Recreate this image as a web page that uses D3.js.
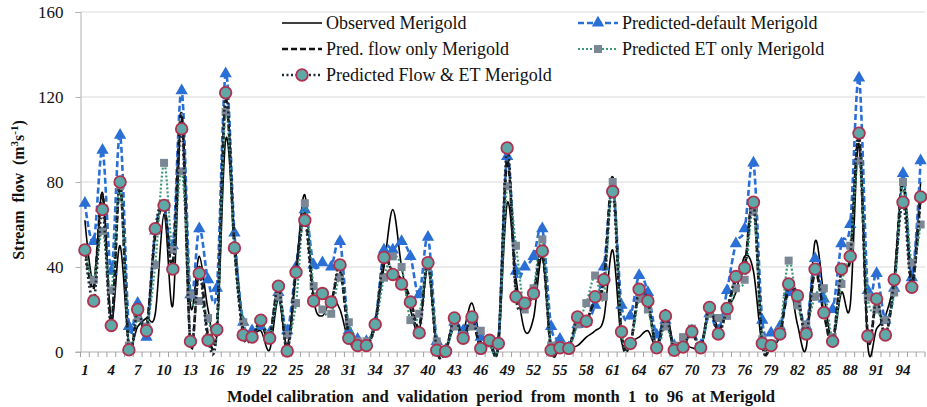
<!DOCTYPE html>
<html><head><meta charset="utf-8">
<script src="https://cdn.jsdelivr.net/npm/d3@7"></script>
<style>
body{margin:0;background:#fff;}
svg text{font-family:"Liberation Serif","DejaVu Serif","Times New Roman",serif !important;fill:#111;}
</style></head>
<body><svg id="chart" width="927" height="407"></svg>
<script>
const months = d3.range(1, 97);
const observed = [62,33,75,15,50,4,12,16,18,65, 22,110,22,45,20,8,100,55,12,8, 10,1,25,3,38,74,25,17,25,20, 5,3,3,15,40,67,40,20,10,40, 2,1,12,10,23,5,3,3,70,35, 10,16,45,3,2,2,3,7,10,16, 48,5,5,7,10,3,20,2,4,2, 3,20,12,20,28,45,38,3,4,8, 33,13,2,52,27,5,28,22,98,3, 11,17,35,82,37,80];
const predDefault = [70,52,95,38,102,12,23,7,57,68, 50,123,27,58,34,30,131,56,14,10, 12,9,28,10,40,67,41,42,40,52, 10,6,5,14,48,48,52,45,27,54, 5,1,14,10,16,7,5,5,92,38, 40,45,58,12,6,2,13,14,22,40, 78,22,17,36,28,8,15,3,3,10, 3,18,10,29,51,58,89,15,9,12, 28,26,12,44,25,20,51,60,129,29, 37,15,30,84,35,90];
const predFlowOnly = [50,30,74,14,78,2,18,12,55,68, 42,112,3,40,8,12,118,50,10,8, 13,7,30,1,38,65,26,26,24,38, 8,3,3,13,42,38,34,25,12,42, 1,0.5,15,7,15,2,5,4,90,30, 24,28,46,1,2,2,15,15,25,33, 82,8,4,28,23,2,17,1,2,9, 2,20,10,20,34,40,72,4,3,8, 30,25,9,38,18,5,38,44,100,7, 24,8,33,80,32,75];
const predETOnly = [48,34,57,29,78,3,16,12,41,89, 48,85,27,24,16,10,113,48,14,8, 14,8,26,8,23,70,31,20,18,35, 14,5,5,12,35,45,40,15,18,40, 5,1,12,8,12,10,4,4,78,50, 20,30,53,3,3,2,13,23,36,26, 80,10,4,25,20,3,12,3,7,11, 3,18,16,17,30,34,66,6,4,10, 43,22,13,26,30,7,32,50,90,26, 20,15,28,80,42,60];
const predFlowET = [48,24,67,12.5,80,1,20,10,58,69, 39,105,5,37,5.5,10.5,122,49,8,7, 15,6.5,31,0.5,37.5,62,24,27.5,23.5,41, 6.5,3,3,13,44.5,36.5,32,23.5,9,42, 0.8,0.3,16,6.5,16.5,1.7,5.5,4,96,26, 23,27.5,47.5,0.8,2,1.7,16.5,14.5,26,34, 75.5,9.5,4,29.5,24,2,17,0.8,2.3,9.5, 2,21,8.5,20.5,35.5,39.5,70.5,4,3,8.5, 32,26.5,8.5,39,18.5,5,39,45,103,7.5, 25,8,34,70.5,30.5,73];
const yTicks = [0, 40, 80, 120, 160];
const xTickLabels = months.filter(m => (m - 1) % 3 === 0);
const seriesNames = ["Observed Merigold","Predicted-default Merigold","Pred. flow only Merigold","Predicted ET only Merigold","Predicted Flow & ET Merigold"];

const FONT = "'Liberation Serif','DejaVu Serif','Times New Roman',serif";
const svg = d3.select("#chart");
const L = 80.5, R = 925, T = 12, B = 352;
const x = d3.scaleBand().domain(months).range([L, R]).padding(0);
const cx = m => x(m) + x.bandwidth() / 2;
const y = d3.scaleLinear().domain([0, 160]).range([B, T]);

svg.append("rect").attr("width", 927).attr("height", 407).attr("fill", "#fff");

// gridlines
svg.append("g").selectAll("line").data(yTicks.filter(d => d > 0)).join("line")
  .attr("x1", L).attr("x2", R).attr("y1", d => y(d)).attr("y2", d => y(d))
  .attr("stroke", "#d9d9d9").attr("stroke-width", 1.2);

// y axis
const ya = svg.append("g").attr("transform", `translate(${L},0)`)
  .call(d3.axisLeft(y).tickValues(yTicks).tickSize(5).tickPadding(12));
ya.attr("font-family", null);
ya.select(".domain").attr("stroke", "#b0b0b0");
ya.selectAll(".tick line").attr("stroke", "#b0b0b0");
ya.selectAll("text").attr("font-size", 17).attr("fill", "#111").style("font-family", FONT);

// x axis
const xa = svg.append("g").attr("transform", `translate(0,${B})`);
xa.append("line").attr("x1", L - 5).attr("x2", R).attr("stroke", "#b0b0b0").attr("stroke-width", 1.2);
xa.selectAll("line.tk").data(months.concat([97])).join("line").attr("class", "tk")
  .attr("x1", m => m <= 96 ? x(m) : R).attr("x2", m => m <= 96 ? x(m) : R)
  .attr("y1", 0).attr("y2", 5).attr("stroke", "#a0a0a0");
xa.selectAll("text").data(xTickLabels).join("text")
  .attr("x", m => cx(m)).attr("y", 23).attr("text-anchor", "middle")
  .attr("font-size", 15).attr("font-style", "italic").attr("font-weight", "bold")
  .style("font-family", FONT)
  .text(m => m);

// series
const curve = d3.curveCatmullRom.alpha(0);
const lineGen = vals => d3.line().x((d, i) => cx(months[i])).y(d => y(d)).curve(curve)(vals);

const blue = "#2a6fd6", teal = "#3a9a78", sq = "#7b8794", navy = "#1d2a3a", cFill = "#5ea9a8", cStroke = "#b0304e";

svg.append("path").attr("d", lineGen(observed)).attr("fill", "none").attr("stroke", "#000").attr("stroke-width", 1.6);
svg.append("path").attr("d", lineGen(predDefault)).attr("fill", "none").attr("stroke", blue).attr("stroke-width", 2.6).attr("stroke-dasharray", "6,3");
svg.append("g").selectAll("path").data(predDefault).join("path")
  .attr("d", d3.symbol(d3.symbolTriangle, 66)())
  .attr("transform", (d, i) => `translate(${cx(months[i])},${y(d)})`).attr("fill", blue);
svg.append("path").attr("d", lineGen(predFlowOnly)).attr("fill", "none").attr("stroke", "#111").attr("stroke-width", 2.6).attr("stroke-dasharray", "6,3");
svg.append("path").attr("d", lineGen(predETOnly)).attr("fill", "none").attr("stroke", teal).attr("stroke-width", 2.2).attr("stroke-dasharray", "2,2");
svg.append("g").selectAll("rect").data(predETOnly).join("rect")
  .attr("x", (d, i) => cx(months[i]) - 4).attr("y", d => y(d) - 4).attr("width", 8).attr("height", 8).attr("fill", sq);
svg.append("path").attr("d", lineGen(predFlowET)).attr("fill", "none").attr("stroke", navy).attr("stroke-width", 2.6).attr("stroke-dasharray", "2,2.5");
svg.append("g").selectAll("circle").data(predFlowET).join("circle")
  .attr("cx", (d, i) => cx(months[i])).attr("cy", d => y(d)).attr("r", 5.8)
  .attr("fill", cFill).attr("stroke", cStroke).attr("stroke-width", 1.8);

// legend
const lg = svg.append("g");
const items = [
  {name: seriesNames[0], x: 282, y: 23, type: "obs"},
  {name: seriesNames[1], x: 578, y: 23, type: "def"},
  {name: seriesNames[2], x: 282, y: 49, type: "flow"},
  {name: seriesNames[3], x: 578, y: 49, type: "et"},
  {name: seriesNames[4], x: 282, y: 75, type: "fe"}
];
items.forEach(it => {
  const g = lg.append("g").attr("transform", `translate(${it.x},${it.y})`);
  const ln = g.append("line").attr("x1", 0).attr("x2", 40).attr("y1", 0).attr("y2", 0);
  if (it.type === "obs") ln.attr("stroke", "#000").attr("stroke-width", 1.6);
  if (it.type === "def") { ln.attr("stroke", blue).attr("stroke-width", 2.6).attr("stroke-dasharray", "6,3");
    g.append("path").attr("d", d3.symbol(d3.symbolTriangle, 66)()).attr("transform", "translate(20,0)").attr("fill", blue); }
  if (it.type === "flow") ln.attr("stroke", "#111").attr("stroke-width", 2.6).attr("stroke-dasharray", "6,3");
  if (it.type === "et") { ln.attr("stroke", teal).attr("stroke-width", 2.2).attr("stroke-dasharray", "2,2");
    g.append("rect").attr("x", 16).attr("y", -4).attr("width", 8).attr("height", 8).attr("fill", sq); }
  if (it.type === "fe") { ln.attr("stroke", navy).attr("stroke-width", 2.4).attr("stroke-dasharray", "2,2.5");
    g.append("circle").attr("cx", 20).attr("cy", 0).attr("r", 5.8).attr("fill", cFill).attr("stroke", cStroke).attr("stroke-width", 1.8); }
  g.append("text").attr("x", 44).attr("y", 0).attr("dy", "0.35em").attr("font-size", 18)
    .style("font-family", FONT).text(it.name);
});

// y title
const yt = svg.append("text").attr("transform", "translate(24,190) rotate(-90)")
  .attr("text-anchor", "middle").attr("font-size", 16).attr("font-weight", "bold")
  .style("font-family", FONT).style("white-space", "pre");
yt.append("tspan").text("Stream  flow  (m");
yt.append("tspan").attr("dy", -6).attr("font-size", 11).text("3");
yt.append("tspan").attr("dy", 6).text("s");
yt.append("tspan").attr("dy", -6).attr("font-size", 11).text("-1");
yt.append("tspan").attr("dy", 6).text(")");

// x title
svg.append("text").attr("x", 501).attr("y", 402).attr("text-anchor", "middle")
  .attr("font-size", 16.6).attr("font-weight", "bold").style("white-space", "pre")
  .style("font-family", FONT)
  .text("Model calibration  and  validation  period  from  month  1  to  96  at Merigold");
</script></body></html>
